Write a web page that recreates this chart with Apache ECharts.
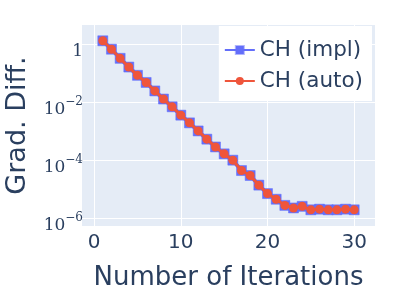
<!DOCTYPE html>
<html><head><meta charset="utf-8">
<script src="https://cdn.jsdelivr.net/npm/echarts@6/dist/echarts.min.js"></script>
<style>html,body{margin:0;padding:0;background:#fff}#c{width:400px;height:300px}</style>
</head><body><div id="c"></div>
<script>
const iterations = [1,2,3,4,5,6,7,8,9,10,11,12,13,14,15,16,17,18,19,20,21,22,23,24,25,26,27,28,29,30];
const implValues = [1.29,0.66,0.32,0.16,0.083,0.047,0.024,0.0126,0.0068,0.0035,0.0019,0.001,0.00052,0.00028,0.000162,0.000098,0.000043,0.000029,0.0000135,0.0000069,0.0000044,0.0000027,0.0000022,0.0000025,0.0000019,0.000002,0.0000019,0.0000019,0.000002,0.0000019];
const autoValues = [1.29,0.66,0.32,0.16,0.083,0.047,0.024,0.0126,0.0068,0.0035,0.0019,0.001,0.00052,0.00028,0.000162,0.000098,0.000043,0.000029,0.0000135,0.0000069,0.0000044,0.0000027,0.0000022,0.0000025,0.0000019,0.000002,0.0000019,0.0000019,0.000002,0.0000019];
const xTicks = [0,10,20,30];
const yTicks = [1e-6,1e-4,1e-2,1];
const yTickLabels = {'1e-6':'{b|10}{s|−6}','0.0001':'{b|10}{s|−4}','0.01':'{b|10}{s|−2}','1':'{b|1}'};
const seriesNames = ['CH (impl)','CH (auto)'];

const chart = echarts.init(document.getElementById('c'), null, {renderer:'canvas'});
const txt = '#2a3f5f';
const font = 'DejaVu Sans';
chart.setOption({
  animation:false,
  grid:{left:82,right:25,top:25,bottom:74,show:true,backgroundColor:'#E5ECF6',borderWidth:0,outerBoundsMode:'none',containLabel:false},
  legend:{
    right:28, top:26, orient:'vertical', backgroundColor:'#ffffff', padding:[13,9,9,5],
    itemGap:9, itemWidth:30, itemHeight:10,
    textStyle:{fontFamily:font,fontSize:21.5,color:txt},
    data:[{name:seriesNames[0]},{name:seriesNames[1]}]
  },
  xAxis:{
    type:'value', min:-1.4, max:32.4,
    name:'Number of Iterations', nameLocation:'middle', nameGap:52,
    nameTextStyle:{fontFamily:font,fontSize:26,color:txt,verticalAlign:'middle'},
    axisLine:{show:false}, axisTick:{show:false, customValues:xTicks},
    axisLabel:{customValues:xTicks, fontFamily:font, fontSize:20, color:txt, margin:7},
    splitLine:{show:true,lineStyle:{color:'#fff',width:1}}
  },
  yAxis:{
    type:'log', logBase:10, min:5.25e-7, max:4.52,
    name:'Grad. Diff.', nameLocation:'middle', nameGap:64,
    nameTextStyle:{fontFamily:font,fontSize:27,color:txt,verticalAlign:'middle'},
    axisLine:{show:false}, axisTick:{show:false, customValues:yTicks},
    axisLabel:{customValues:yTicks, margin:-1, color:txt,
      formatter:function(v){
        for (const k in yTickLabels){ if (Math.abs(Math.log10(v)-Math.log10(Number(k)))<1e-6) return yTickLabels[k]; }
        return '';
      },
      rich:{
        b:{fontFamily:'DejaVu Serif',fontSize:17,color:txt,padding:[15,0,0,0]},
        s:{fontFamily:'DejaVu Serif',fontSize:12,color:txt,padding:[0,0,0,0]}
      }
    },
    splitLine:{show:true,lineStyle:{color:'#fff',width:1}},
    minorTick:{show:false}, minorSplitLine:{show:false}
  },
  series:[
    {name:seriesNames[0], type:'line', data:iterations.map((x,i)=>[x,implValues[i]]),
     symbol:'rect', symbolSize:10, lineStyle:{color:'#636EFA',width:4},
     itemStyle:{color:'#636EFA',borderColor:'rgba(99,110,250,0.5)',borderWidth:1}, z:2},
    {name:seriesNames[1], type:'line', data:iterations.map((x,i)=>[x,autoValues[i]]),
     symbol:'circle', symbolSize:9, lineStyle:{color:'#EF553B',width:3},
     itemStyle:{color:'#EF553B'}, z:3}
  ]
});
</script></body></html>
